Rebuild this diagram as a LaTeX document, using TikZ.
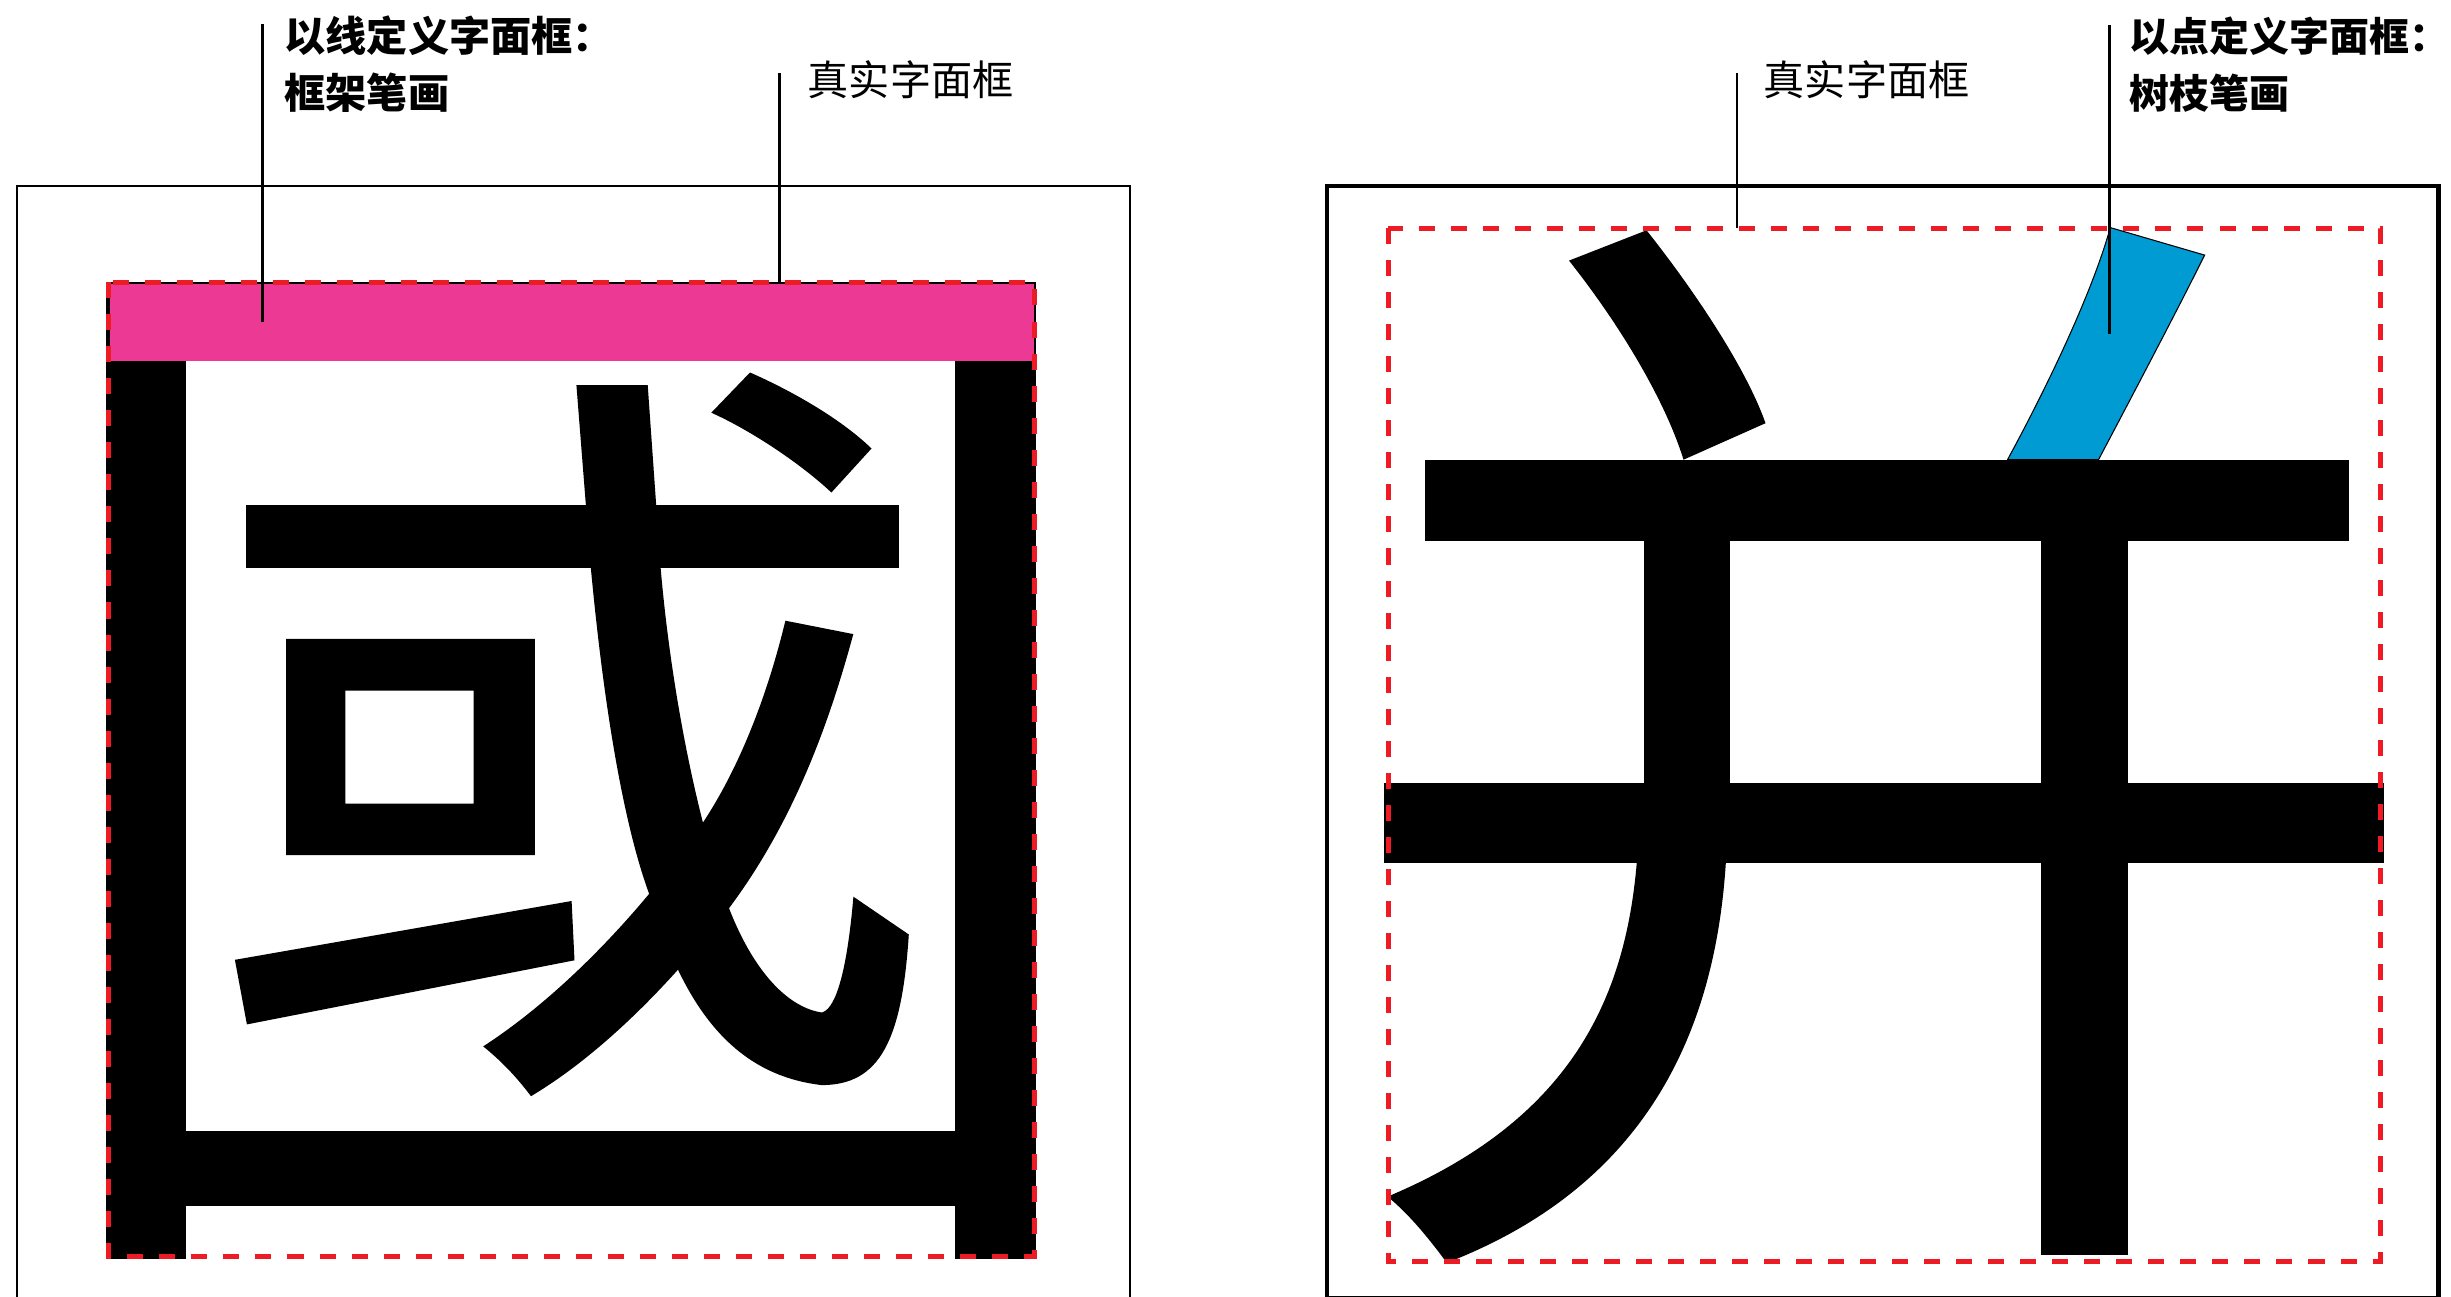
\documentclass[tikz,border=0pt]{standalone}
\usepackage{fontspec}
\newfontfamily\cjk{Noto Sans CJK SC}
\definecolor{framepink}{RGB}{236,58,148}
\definecolor{dashred}{RGB}{237,28,36}
\definecolor{strokeblue}{RGB}{0,155,210}
\begin{document}
\begin{tikzpicture}[x=0.01cm,y=-0.01cm,
  lbl/.style={inner sep=0pt, anchor=base west, font=\cjk\fontsize{11.7}{14}\selectfont},
  lblb/.style={inner sep=0pt, anchor=base west, font=\cjk\bfseries\fontsize{11.7}{14}\selectfont},
  lblbs/.style={inner sep=0pt, anchor=base west, font=\cjk\bfseries\fontsize{11.35}{14}\selectfont},
  leader/.style={line width=0.65pt},
  facebox/.style={draw=dashred, line width=1.42pt, dash pattern=on 0.16cm off 0.16cm},
  glyph/.style={fill=black}]
\useasboundingbox (0,0) rectangle (2451,1297);
\clip (0,0) rectangle (2451,1297);

% ---------------- left panel ----------------
\draw[line width=0.6pt] (17,186) rectangle (1130,1330);
% frame strokes
\fill[black] (106,282) rectangle (1036,1259);
\fill[white] (186,360.7) rectangle (955,1131);
\fill[white] (186,1206) rectangle (955,1262);
\fill[framepink] (110,284) rectangle (1034,360.7);
% character
\fill[glyph] (245.9,505.4) rectangle (899,567.6);
\fill[glyph, even odd rule] (286.1,638.9) rectangle (534.8,855.1) (345.4,690.5) rectangle (473.6,803.5);
\fill[glyph] (234.9,959.8) -- (571.6,901) -- (574.5,960.3) -- (246.9,1024.4) -- cycle;
\fill[glyph] (711.3,412.7) -- (750,372.5) .. controls (790,390) and (840,418) .. (871.5,448.5)
  -- (831.4,492.5) .. controls (800,463) and (750,430) .. (711.3,412.7) -- cycle;
% slanted hook stroke
\fill[glyph] (576.4,385) -- (590.8,567.6)
  .. controls (606,730) and (628,840) .. (651.5,900)
  .. controls (685,1010) and (735,1075) .. (821.8,1085.1)
  .. controls (880,1085) and (902,1040) .. (908.8,934.5)
  -- (853.4,896.7)
  .. controls (848,960) and (838,1008) .. (822,1012.5)
  .. controls (790,1008) and (755,975) .. (729,908.2)
  .. controls (700,830) and (672,700) .. (660.6,567.6)
  -- (647.7,385) -- cycle;
% left-falling stroke
\fill[glyph] (785.4,620.7) -- (853.3,634.1)
  .. controls (830,720) and (795,820) .. (729,908.2)
  .. controls (670,985) and (600,1055) .. (531,1096.2)
  .. controls (515,1075) and (500,1060) .. (483.2,1046.4)
  .. controls (570,990) and (650,900) .. (701.3,825)
  .. controls (735,775) and (765,705) .. (785.4,620.7)
  -- cycle;
% true face box
\draw[facebox] (108.5,282.3) rectangle (1034,1256);

% labels left
\node[lblb] (lineA) at (284,52) {以线定义字面框：};
\node[lblb] (lineB) at (284,109) {框架笔画};
\node[lbl] (trueL) at (807,95.5) {真实字面框};
\coordinate (lineTop) at (262.5,24);
\coordinate (lineEnd) at (262.5,322);
\coordinate (trueLTop) at (779.5,73);
\coordinate (trueLEnd) at (779.5,282);
\draw[leader] (lineTop) -- (lineEnd);
\draw[leader] (trueLTop) -- (trueLEnd);

% ---------------- right panel ----------------
\draw[line width=1.3pt] (1327,186) rectangle (2438.5,1298.5);
\fill[glyph] (1569,260.6) -- (1646.5,230.3) .. controls (1690,285) and (1745,365) .. (1765.5,423.2)
  -- (1683.5,459.7) .. controls (1665,400) and (1620,325) .. (1569,260.6) -- cycle;
\filldraw[fill=strokeblue, draw=black, line width=0.3pt] (2110.3,227.6) -- (2204.6,255.1)
  .. controls (2180,305) and (2130,400) .. (2098.5,459.7) -- (2007.5,459.7)
  .. controls (2040,400) and (2090,300) .. (2110.3,227.6) -- cycle;
\fill[glyph] (1425.3,459.7) rectangle (2349,540.9);
\fill[glyph] (1643.9,540) rectangle (1729.7,784);
\fill[glyph] (2041.3,540) rectangle (2127.8,1255.2);
\fill[glyph] (1384.3,783.4) rectangle (2383.5,863.3);
\fill[glyph] (1636.7,850) -- (1725.8,850) -- (1725.8,863.3)
  .. controls (1715,1030) and (1648,1185) .. (1446.8,1262.8)
  .. controls (1430,1240) and (1410,1215) .. (1387.6,1196.6)
  .. controls (1570,1120) and (1625,1000) .. (1636.7,863.3)
  -- cycle;
\draw[facebox] (1388,228.3) rectangle (2380,1261);

% labels right
\node[lbl] (trueR) at (1763,95.5) {真实字面框};
\node[lblbs] (pointA) at (2129,52) {以点定义字面框：};
\node[lblbs] (pointB) at (2129,109) {树枝笔画};
\coordinate (trueRTop) at (1737,73);
\coordinate (trueREnd) at (1737,228);
\coordinate (pointTop) at (2109.4,25);
\coordinate (pointEnd) at (2109.4,334);
\draw[leader] (trueRTop) -- (trueREnd);
\draw[leader] (pointTop) -- (pointEnd);
\end{tikzpicture}
\end{document}
